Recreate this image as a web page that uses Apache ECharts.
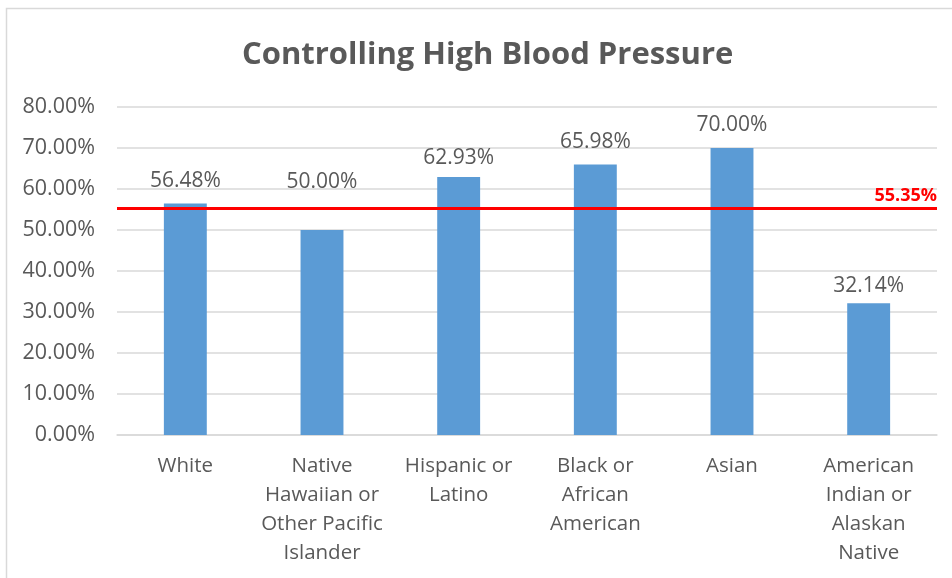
<!DOCTYPE html>
<html>
<head>
<meta charset="utf-8">
<script src="https://cdn.jsdelivr.net/npm/echarts@6/dist/echarts.min.js"></script>
<style>
  html, body { margin: 0; padding: 0; background: #fff; }
  #chart { width: 952px; height: 578px; }
</style>
</head>
<body>
<div id="chart"></div>
<script>
// Controlling High Blood Pressure by race / ethnicity
const categories = [
  'White',
  'Native\nHawaiian or\nOther Pacific\nIslander',
  'Hispanic or\nLatino',
  'Black or\nAfrican\nAmerican',
  'Asian',
  'American\nIndian or\nAlaskan\nNative'
];
const rates = [56.48, 50.00, 62.93, 65.98, 70.00, 32.14];
const overallRate = 55.35;
const yTicks = [0, 10, 20, 30, 40, 50, 60, 70, 80];
// vertical nudge (px) of each value label, so none collides with the reference line
const labelNudge = [0, -25, 4, 0, 0, 5];

const FONT = '"Open Sans", "Liberation Sans", sans-serif';
const TEXT = '#595959';

const chart = echarts.init(document.getElementById('chart'));
chart.setOption({
  animation: false,
  title: {
    text: 'Controlling High Blood Pressure',
    left: 237,
    top: 35,
    textStyle: { fontFamily: FONT, fontSize: 31, fontWeight: 'bold', color: TEXT }
  },
  graphic: [{
    type: 'rect',
    shape: { x: 6.5, y: 8.5, width: 1000, height: 1000 },
    style: { fill: 'none', stroke: '#d9d9d9', lineWidth: 1.5 },
    silent: true
  }],
  grid: { left: 117, right: 15, top: 107, bottom: 143 },
  xAxis: {
    type: 'category',
    data: categories,
    axisLine: { show: true, lineStyle: { color: '#d9d9d9', width: 1.5 } },
    axisTick: { show: false },
    axisLabel: {
      fontFamily: FONT, fontSize: 20.5, color: TEXT,
      lineHeight: 29, margin: 17, interval: 0
    }
  },
  yAxis: {
    type: 'value',
    min: yTicks[0],
    max: yTicks[yTicks.length - 1],
    interval: 10,
    axisLine: { show: false },
    axisTick: { show: false },
    splitLine: { lineStyle: { color: '#d9d9d9', width: 1.5 } },
    axisLabel: {
      fontFamily: FONT, fontSize: 21.5, color: TEXT, margin: 22,
      formatter: v => v.toFixed(2) + '%'
    }
  },
  series: [{
    type: 'bar',
    data: rates.map((v, i) => ({
      value: v,
      label: { offset: [0, labelNudge[i]] }
    })),
    barWidth: '31.4%',
    itemStyle: { color: '#5b9bd5' },
    label: {
      show: true,
      position: 'top',
      distance: 12,
      fontFamily: FONT, fontSize: 21, color: TEXT,
      formatter: p => p.value.toFixed(2) + '%'
    },
    markLine: {
      silent: true,
      symbol: ['none', 'none'],
      lineStyle: { color: '#ff0000', width: 3, type: 'solid' },
      label: {
        show: true,
        position: 'insideEndTop',
        distance: [0, 3],
        fontFamily: FONT, fontSize: 18, fontWeight: 'bold', color: '#ff0000',
        formatter: overallRate.toFixed(2) + '%'
      },
      data: [{ yAxis: overallRate }]
    }
  }]
});
</script>
</body>
</html>
